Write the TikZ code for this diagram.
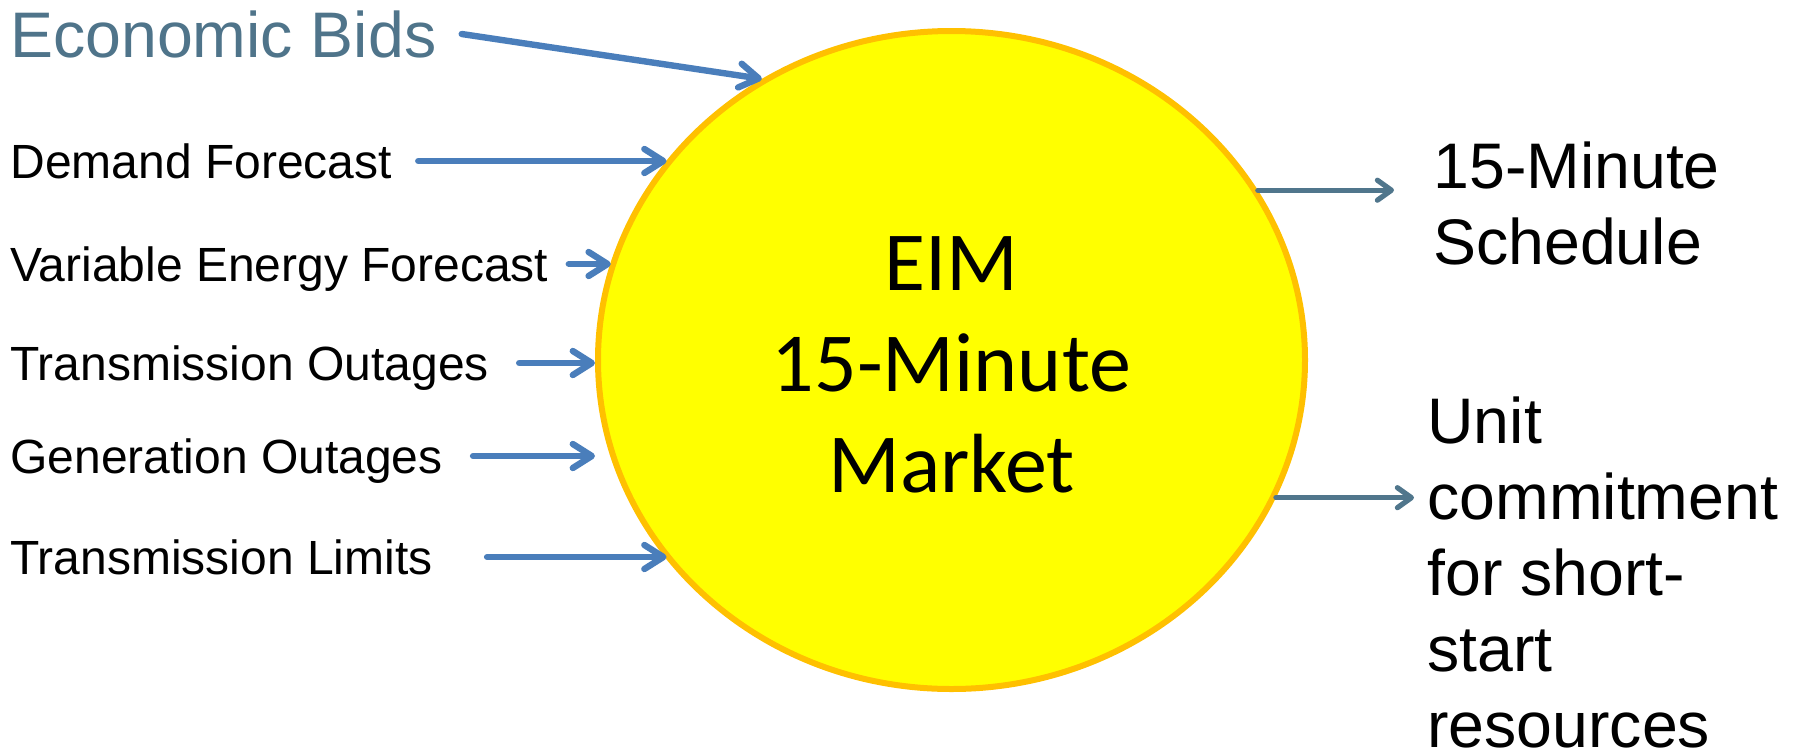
\documentclass[tikz,border=0pt]{standalone}
\usepackage{fontspec}
\setmainfont{Liberation Sans}
\newfontfamily\calibrifont{Carlito}
\usetikzlibrary{arrows.meta,shapes.geometric}
\definecolor{inblue}{RGB}{74,126,187}
\definecolor{outslate}{RGB}{80,118,140}
\definecolor{bidsslate}{RGB}{79,116,138}
\definecolor{mktfill}{RGB}{255,255,0}
\definecolor{mktline}{RGB}{255,192,0}
\tikzset{
  inlabel/.style={anchor=west,inner sep=0pt,text height=17.2pt,text depth=0pt,
    font=\fontsize{24}{29}\selectfont},
  biglabel/.style={anchor=north west,inner sep=0pt,align=left,
    font=\fontsize{32.2}{38}\selectfont},
  inarrow/.style={-{Straight Barb[length=9.5pt,width=12pt,line cap=round,line join=round]},
    draw=inblue,line width=3.2pt},
  outarrow/.style={-{Straight Barb[length=7pt,width=10pt,line cap=round,line join=round]},
    draw=outslate,line width=2.6pt},
}
\begin{document}
\begin{tikzpicture}[x=0.5pt,y=-0.5pt,line cap=round]
\useasboundingbox (0,0) rectangle (1800,751);
%%
  % Node: market
  \node (market) [ellipse,draw=mktline,fill=mktfill,line width=3pt,
    minimum width=353.5pt,minimum height=329pt,inner sep=0pt,align=center,
    font=\calibrifont\fontsize{42}{50.5}\selectfont] at (951.5,360) {\rule{0pt}{32pt}EIM\\15-Minute\\Market};
  % Node: bids
  \node (bids) [inlabel,text height=23pt,text=bidsslate,font=\fontsize{32.2}{38}\selectfont] at (10,34) {Economic Bids};
  % Node: demand
  \node (demand) [inlabel] at (10,161) {Demand Forecast};
  % Node: varenergy
  \node (varenergy) [inlabel] at (10,264) {Variable Energy Forecast};
  % Node: txout
  \node (txout) [inlabel] at (10,363) {Transmission Outages};
  % Node: genout
  \node (genout) [inlabel] at (10,456) {Generation Outages};
  % Node: txlim
  \node (txlim) [inlabel] at (10,557) {Transmission Limits};
  % Node: sched
  \node (sched) [biglabel] at (1433,141) {15-Minute\\Schedule};
  % Node: unitcmt
  \node (unitcmt) [biglabel] at (1427,396) {Unit\\commitment\\for short-\\start\\resources};
%
  % Edge: bids -> market
  \draw [inarrow] ([xshift=12.5pt]bids.east) -- (market.124);
  % Edge: demand -> market
  \draw [inarrow] ([xshift=13pt]demand.east) -- (demand.east -| market.145);
  % Edge: varenergy -> market
  \draw [inarrow] ([xshift=10pt]varenergy.east) -- (varenergy.east -| market.164);
  % Edge: txout -> market
  \draw [inarrow] ([xshift=15pt]txout.east) -- (txout.east -| market.west);
  % Edge: genout -> market
  \draw [inarrow] ([xshift=15pt]genout.east) -- (genout.east -| market.west);
  % Edge: txlim -> market
  \draw [inarrow] ([xshift=27pt]txlim.east) -- (txlim.east -| market.215);
  % Edge: market -> sched
  \draw [outarrow] (market.29) -- ([xshift=-19.5pt]market.29 -| sched.west);
  % Edge: market -> unitcmt
  \draw [outarrow] (market.337) -- ([xshift=-6.5pt]market.337 -| unitcmt.west);
%
\end{tikzpicture}
\end{document}
